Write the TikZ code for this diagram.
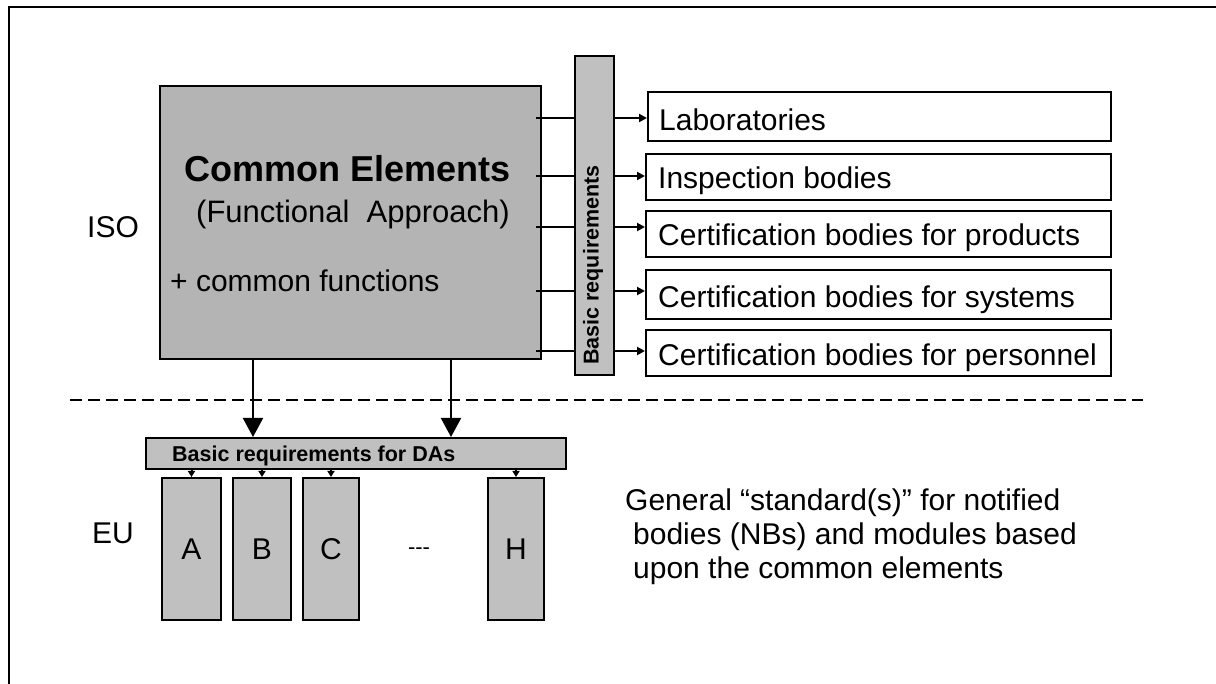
\documentclass[tikz,border=0pt]{standalone}
\usepackage{fontspec}
\setmainfont{Liberation Sans}
\usetikzlibrary{arrows.meta}
\definecolor{maingray}{HTML}{B4B4B4}
\definecolor{lightgray}{HTML}{C0C0C0}
\tikzset{
  box/.style={draw=black, line width=2pt, rectangle, inner sep=0pt},
  graybox/.style={box, fill=lightgray},
  whitebox/.style={box, fill=white, minimum width=465pt},
  txt/.style={inner sep=0pt, font=\fontsize{30}{34}\selectfont},
  smalltxt/.style={inner sep=0pt, font=\fontsize{21.5}{25}\selectfont\bfseries},
  conn/.style={line width=2pt},
  bigarrow/.style={conn, -{Triangle[width=20pt,length=19pt]}},
  midarrow/.style={conn, -{Triangle[width=8pt,length=8pt]}},
  tinyarrow/.style={conn, -{Triangle[width=7pt,length=6pt]}},
}
\begin{document}
\begin{tikzpicture}[x=1pt,y=-1pt]
\useasboundingbox (0,0) rectangle (1216,684);
% frame
\coordinate (f1) at (9,684);
\coordinate (f2) at (9,7.5);
\coordinate (f3) at (1216,7.5);
\draw[line width=2pt] (f1) -- (f2) -- (f3);

% main box
\node[box, fill=maingray, minimum width=381pt, minimum height=273pt] (main) at (350.5,222.5) {};
\node[inner sep=0pt, anchor=base, font=\fontsize{36}{40}\selectfont\bfseries] (ce) at (348,182) {Common Elements};
\node[txt, anchor=base, font=\fontsize{31}{34}\selectfont] (fa) at (353,223) {(Functional\ \ Approach)};
\node[txt, anchor=base west] (cf) at (170,292) {+ common functions};

% vertical bar
\node[graybox, minimum width=39pt, minimum height=319pt] (bar) at (594.5,215.5) {};
\node[smalltxt, rotate=90, anchor=base west] (bartxt) at (598.5,365) {Basic requirements};

% right boxes
\node[whitebox, minimum width=463pt, minimum height=49pt] (b1) at (879.5,116.5) {};
\node[whitebox, minimum height=46pt] (b2) at (878.5,177) {};
\node[whitebox, minimum height=46pt] (b3) at (878.5,234) {};
\node[whitebox, minimum height=49pt] (b4) at (878.5,294.5) {};
\node[whitebox, minimum height=46pt] (b5) at (878.5,353) {};
\node[txt, anchor=base west] (t1) at (659,131) {Laboratories};
\node[txt, anchor=base west] (t2) at (658,189) {Inspection bodies};
\node[txt, anchor=base west] (t3) at (658,246) {Certification bodies for products};
\node[txt, anchor=base west] (t4) at (658,308) {Certification bodies for systems};
\node[txt, anchor=base west] (t5) at (658,366) {Certification bodies for personnel};

% connector levels
\coordinate (r1) at (0,118);
\coordinate (r2) at (0,176);
\coordinate (r3) at (0,227);
\coordinate (r4) at (0,291);
\coordinate (r5) at (0,351);
\foreach \i in {1,...,5}{
  \draw[conn] ([xshift=-6pt]main.east |- r\i) -- (bar.west |- r\i);
  \draw[midarrow] (bar.east |- r\i) -- (b\i.west |- r\i);
}

% labels
\node[txt, anchor=base west] (iso) at (87,238) {ISO};
\node[txt, anchor=base west] (eu) at (92,543) {EU};

% dashed separator
\coordinate (d1) at (70,400);
\coordinate (d2) at (1143,400);
\draw[line width=2pt, dash pattern=on 12pt off 6pt] (d1) -- (d2);

% DA bar
\node[graybox, minimum width=420pt, minimum height=31pt] (da) at (356,453.5) {};
\node[smalltxt, anchor=base west] (datxt) at (172,462) {Basic requirements for DAs};

\coordinate (v1) at (253,0);
\coordinate (v2) at (451,0);
\draw[bigarrow] (main.south -| v1) -- (da.north -| v1);
\draw[bigarrow] (main.south -| v2) -- (da.north -| v2);

% module boxes
\node[graybox, minimum width=59pt, minimum height=142pt] (A) at (191.5,549) {};
\node[graybox, minimum width=58pt, minimum height=142pt] (B) at (262,549) {};
\node[graybox, minimum width=56pt, minimum height=142pt] (C) at (331,549) {};
\node[graybox, minimum width=56pt, minimum height=142pt] (H) at (516,549) {};
\node[txt] (Al) at (A.center) {A};
\node[txt] (Bl) at (B.center) {B};
\node[txt] (Cl) at (C.center) {C};
\node[txt] (Hl) at (H.center) {H};
\node[inner sep=0pt, font=\fontsize{22}{26}\selectfont] (dots) at (419,551) {-{}-{}-};
\foreach \m in {A,B,C,H}{
  \draw[tinyarrow] (da.south -| \m.north) -- (\m.north);
}

% general text
\node[txt, anchor=base west, align=left] (gen) at (625,578) {General “standard(s)” for notified\\\hspace*{8pt}bodies (NBs) and modules based\\\hspace*{8pt}upon the common elements};
\end{tikzpicture}
\end{document}
